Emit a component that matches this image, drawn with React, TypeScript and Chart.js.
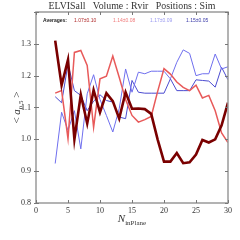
import React, { useEffect, useRef } from "react";
import { Chart, registerables } from "chart.js";

Chart.register(...registerables);

const nInPlane = [3, 4, 5, 6, 7, 8, 9, 10, 11, 12, 13, 14, 15, 16, 17, 18, 19, 20, 21, 22, 23, 24, 25, 26, 27, 28, 29, 30];

const darkRed = [1.31, 1.17, 1.25, 1.0, 1.14, 1.05, 1.155, 1.085, 1.145, 1.12, 1.065, 1.148, 1.096, 1.097, 1.095, 1.08, 1.0, 0.93, 0.93, 0.957, 0.925, 0.928, 0.952, 0.998, 0.99, 1.0, 1.044, 1.115];
const lightRed = [1.145, 1.153, 1.002, 1.273, 1.279, 1.232, 1.038, 1.19, 1.198, 1.262, 1.195, 1.125, 1.075, 1.054, 1.062, 1.072, 1.15, 1.222, 1.205, 1.18, 1.163, 1.153, 1.17, 1.13, 1.138, 1.09, 1.02, 0.99];
const lightBlue = [0.924, 1.085, 1.028, 1.09, 0.97, 1.143, 1.203, 1.125, 1.075, 1.023, 1.096, 1.221, 1.148, 1.211, 1.206, 1.214, 1.214, 1.214, 1.19, 1.242, 1.281, 1.27, 1.2, 1.206, 1.206, 1.268, 1.221, 1.228];
const blue = [1.134, 1.115, 1.237, 1.153, 1.138, 1.09, 1.12, 1.14, 1.122, 1.117, 1.07, 1.065, 1.185, 1.148, 1.145, 1.145, 1.145, 1.145, 1.19, 1.153, 1.153, 1.153, 1.187, 1.185, 1.183, 1.164, 1.226, 1.187];

const averageLabels = ["1.07\u00b10.10", "1.14\u00b10.08", "1.17\u00b10.09", "1.15\u00b10.05"];
const titleText = "ELVISall   Volume : Rvir   Positions : Sim";
const xTickValues = [0, 5, 10, 15, 20, 25, 30];
const yTickValues = [0.8, 0.9, 1.0, 1.1, 1.2, 1.3, 1.4];

const lineColors = ["#7a0000", "#e85a5a", "#6f6fee", "#4b4bd0"];
const textColors = ["#b02a2a", "#f07a7a", "#9a9af0", "#3a3aa8"];

const toPoints = (ys: number[]) => ys.map((v, i) => ({ x: nInPlane[i], y: v }));

const decorPlugin = {
  id: "decor",
  afterDraw(chart: any) {
    const { ctx, chartArea, scales } = chart;
    const { left, right, top, bottom } = chartArea;
    const xs = scales.x;
    const ys = scales.y;
    ctx.save();
    ctx.strokeStyle = "#9a9a9a";
    ctx.lineWidth = 1.5;
    ctx.strokeRect(left, top, right - left, bottom - top);
    ctx.lineWidth = 1;
    ctx.strokeStyle = "#777";
    ctx.beginPath();
    xTickValues.forEach((v) => {
      const px = Math.round(xs.getPixelForValue(v)) + 0.5;
      ctx.moveTo(px, bottom);
      ctx.lineTo(px, bottom - 3);
      ctx.moveTo(px, top);
      ctx.lineTo(px, top + 3);
    });
    yTickValues.forEach((v) => {
      const py = Math.round(ys.getPixelForValue(v)) + 0.5;
      ctx.moveTo(left - 2, py);
      ctx.lineTo(left + 3, py);
      ctx.moveTo(right, py);
      ctx.lineTo(right - 3, py);
    });
    ctx.stroke();

    // title, sized to the reference width
    ctx.fillStyle = "#333";
    ctx.font = '10px "Liberation Serif"';
    const w10 = ctx.measureText(titleText).width;
    const fs = Math.max(8, Math.min(13, (10 * 167) / w10));
    ctx.font = `${fs.toFixed(2)}px "Liberation Serif"`;
    ctx.textAlign = "center";
    ctx.textBaseline = "alphabetic";
    ctx.fillText(titleText, (left + right) / 2, 9);

    ctx.textAlign = "left";
    ctx.font = 'bold 5px "Liberation Sans"';
    ctx.fillStyle = "#222";
    ctx.fillText("Averages:", left + 7, top + 9.5);
    ctx.font = '5px "Liberation Sans"';
    const legX = [74, 113, 150, 186];
    averageLabels.forEach((t, i) => {
      ctx.fillStyle = textColors[i];
      ctx.fillText(t, legX[i], top + 9.5);
    });

    ctx.fillStyle = "#333";
    ctx.font = 'italic 11px "Liberation Serif"';
    const nW = ctx.measureText("N").width;
    ctx.font = '7px "Liberation Serif"';
    const subW = ctx.measureText("inPlane").width;
    const total = nW + subW;
    const cx = (left + right) / 2;
    const sx = cx - total / 2;
    ctx.font = 'italic 11px "Liberation Serif"';
    ctx.fillText("N", sx, 222);
    ctx.font = '7px "Liberation Serif"';
    ctx.fillText("inPlane", sx + nW, 224.5);

    ctx.translate(16, (top + bottom) / 2);
    ctx.rotate(-Math.PI / 2);
    const parts = [
      { t: "< ", f: '11px "Liberation Serif"', dy: 0 },
      { t: "a", f: 'italic 11px "Liberation Serif"', dy: 0 },
      { t: "0.5", f: '7px "Liberation Serif"', dy: 2.5 },
      { t: " >", f: '11px "Liberation Serif"', dy: 0 },
    ];
    let tw = 0;
    parts.forEach((p) => {
      ctx.font = p.f;
      tw += ctx.measureText(p.t).width;
    });
    let px = -tw / 2;
    parts.forEach((p) => {
      ctx.font = p.f;
      ctx.fillText(p.t, px, 4 + p.dy);
      px += ctx.measureText(p.t).width;
    });
    ctx.restore();
  },
};

export default function App() {
  const ref = useRef<HTMLCanvasElement>(null);
  useEffect(() => {
    if (!ref.current) return;
    const chart = new Chart(ref.current, {
      type: "line",
      data: {
        datasets: [
          { data: toPoints(darkRed), borderColor: lineColors[0], borderWidth: 2.6, pointRadius: 0, order: 0, tension: 0 },
          { data: toPoints(lightRed), borderColor: lineColors[1], borderWidth: 1.5, pointRadius: 0, order: 1, tension: 0 },
          { data: toPoints(lightBlue), borderColor: lineColors[2], borderWidth: 1, pointRadius: 0, order: 2, tension: 0 },
          { data: toPoints(blue), borderColor: lineColors[3], borderWidth: 1, pointRadius: 0, order: 3, tension: 0 },
        ],
      },
      options: {
        animation: false,
        responsive: false,
        devicePixelRatio: 1,
        layout: { padding: { top: 12, right: 12, left: 0, bottom: 0 } },
        plugins: { legend: { display: false }, tooltip: { enabled: false }, title: { display: false } },
        scales: {
          x: {
            type: "linear",
            min: 0,
            max: 30,
            afterBuildTicks: (s: any) => {
              s.ticks = xTickValues.map((v) => ({ value: v }));
            },
            afterFit: (s: any) => {
              s.height = 37;
            },
            grid: { display: false, drawTicks: false },
            border: { display: false },
            ticks: {
              font: { family: "Liberation Serif", size: 8 },
              color: "#333",
              padding: 3,
              maxRotation: 0,
              autoSkip: false,
            },
          },
          y: {
            type: "linear",
            min: 0.8,
            max: 1.4,
            afterBuildTicks: (s: any) => {
              s.ticks = yTickValues.map((v) => ({ value: v }));
            },
            afterFit: (s: any) => {
              s.width = 36;
            },
            grid: { display: false, drawTicks: false },
            border: { display: false },
            ticks: {
              font: { family: "Liberation Serif", size: 8 },
              color: "#333",
              padding: 5,
              autoSkip: false,
              callback: (v: any) => (Math.abs(Number(v) - 1.4) < 1e-6 ? "" : Number(v).toFixed(1)),
            },
          },
        },
      },
      plugins: [decorPlugin],
    });
    return () => chart.destroy();
  }, []);
  return (
    <div style={{ position: "absolute", left: 0, top: 0, width: 240, height: 240, background: "#fff" }}>
      <canvas ref={ref} width={240} height={240} />
    </div>
  );
}
